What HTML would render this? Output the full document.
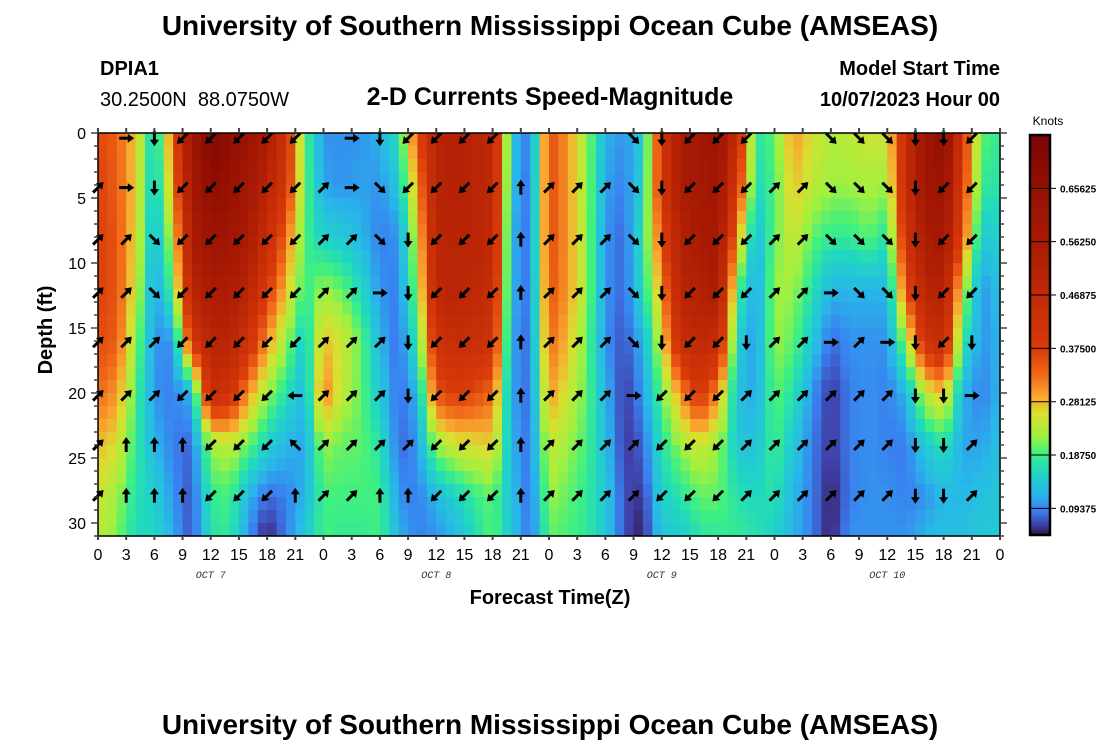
<!DOCTYPE html>
<html><head><meta charset="utf-8">
<style>
body{margin:0;background:#fff;}
svg{display:block;font-family:"Liberation Sans",sans-serif;}
</style></head>
<body>
<svg id="chart" width="1100" height="750" viewBox="0 0 1100 750">
<text x="550" y="35" text-anchor="middle" font-size="28" font-weight="bold">University of Southern Mississippi Ocean Cube (AMSEAS)</text>
<text x="100" y="75" font-size="20" font-weight="bold">DPIA1</text>
<text x="100" y="106" font-size="20" style="white-space:pre">30.2500N  88.0750W</text>
<text x="550" y="105" text-anchor="middle" font-size="25" font-weight="bold">2-D Currents Speed-Magnitude</text>
<text x="1000" y="75" text-anchor="end" font-size="20" font-weight="bold">Model Start Time</text>
<text x="1000" y="106" text-anchor="end" font-size="20" font-weight="bold">10/07/2023 Hour 00</text>
<text transform="translate(52,330) rotate(-90)" text-anchor="middle" font-size="20" font-weight="bold">Depth (ft)</text>
<text x="550" y="604" text-anchor="middle" font-size="20" font-weight="bold">Forecast Time(Z)</text>
<text x="550" y="734" text-anchor="middle" font-size="28" font-weight="bold">University of Southern Mississippi Ocean Cube (AMSEAS)</text>
<text x="1048" y="125" text-anchor="middle" font-size="12">Knots</text>
<g id="heat"></g>
<g id="arrows"></g>
<g id="axes"></g>
<g id="cbar"></g>
</svg>
<script>
// hours sampled every 2h; depth levels
const hours = [];for(let h=0;h<=96;h+=2)hours.push(h);
const depths = [0,4,8,12,16,20,24,28,31];
const speeds = [
[0.36,0.37,0.37,0.37,0.36,0.33,0.28,0.25,0.24],
[0.34,0.34,0.35,0.35,0.34,0.30,0.26,0.22,0.21],
[0.27,0.27,0.26,0.25,0.22,0.19,0.18,0.17,0.16],
[0.14,0.13,0.12,0.10,0.10,0.10,0.12,0.15,0.16],
[0.33,0.30,0.24,0.20,0.10,0.09,0.09,0.10,0.11],
[0.60,0.58,0.55,0.50,0.40,0.12,0.08,0.07,0.07],
[0.72,0.68,0.62,0.55,0.50,0.45,0.22,0.18,0.17],
[0.68,0.65,0.60,0.55,0.50,0.42,0.24,0.19,0.18],
[0.62,0.58,0.55,0.50,0.42,0.30,0.20,0.12,0.10],
[0.55,0.50,0.45,0.38,0.30,0.22,0.15,0.08,0.05],
[0.42,0.40,0.33,0.28,0.22,0.17,0.12,0.09,0.09],
[0.20,0.20,0.19,0.18,0.14,0.12,0.11,0.12,0.14],
[0.10,0.11,0.15,0.22,0.28,0.32,0.22,0.19,0.19],
[0.10,0.10,0.14,0.20,0.25,0.24,0.20,0.19,0.18],
[0.10,0.11,0.12,0.16,0.20,0.20,0.20,0.19,0.18],
[0.12,0.10,0.09,0.10,0.12,0.14,0.17,0.19,0.19],
[0.17,0.14,0.10,0.09,0.08,0.08,0.08,0.10,0.12],
[0.35,0.30,0.25,0.22,0.18,0.12,0.10,0.09,0.09],
[0.50,0.50,0.50,0.48,0.42,0.35,0.22,0.12,0.10],
[0.52,0.52,0.50,0.50,0.45,0.38,0.25,0.15,0.12],
[0.50,0.50,0.50,0.48,0.44,0.36,0.26,0.18,0.16],
[0.48,0.48,0.47,0.45,0.42,0.33,0.27,0.20,0.20],
[0.14,0.13,0.12,0.12,0.11,0.11,0.12,0.13,0.14],
[0.08,0.08,0.08,0.08,0.08,0.08,0.08,0.08,0.08],
[0.36,0.36,0.36,0.35,0.33,0.30,0.25,0.22,0.20],
[0.30,0.30,0.30,0.30,0.28,0.25,0.22,0.20,0.19],
[0.22,0.22,0.22,0.22,0.20,0.20,0.19,0.18,0.18],
[0.12,0.11,0.10,0.10,0.10,0.12,0.13,0.14,0.14],
[0.10,0.09,0.08,0.08,0.07,0.06,0.06,0.07,0.07],
[0.14,0.15,0.17,0.16,0.12,0.10,0.08,0.06,0.05],
[0.40,0.40,0.35,0.30,0.25,0.20,0.17,0.15,0.14],
[0.55,0.55,0.52,0.50,0.45,0.30,0.22,0.17,0.14],
[0.58,0.58,0.56,0.52,0.48,0.40,0.25,0.20,0.17],
[0.62,0.60,0.58,0.55,0.45,0.30,0.22,0.20,0.18],
[0.45,0.40,0.30,0.20,0.15,0.13,0.14,0.17,0.18],
[0.17,0.16,0.12,0.10,0.10,0.11,0.13,0.16,0.17],
[0.20,0.19,0.20,0.22,0.22,0.20,0.19,0.17,0.15],
[0.30,0.28,0.25,0.22,0.20,0.17,0.14,0.12,0.12],
[0.26,0.24,0.20,0.17,0.14,0.10,0.09,0.09,0.09],
[0.23,0.22,0.18,0.12,0.08,0.06,0.06,0.05,0.05],
[0.24,0.22,0.18,0.12,0.10,0.09,0.09,0.09,0.10],
[0.25,0.23,0.20,0.12,0.10,0.10,0.10,0.10,0.10],
[0.25,0.22,0.17,0.12,0.10,0.09,0.09,0.10,0.10],
[0.45,0.45,0.42,0.35,0.22,0.12,0.09,0.09,0.10],
[0.60,0.60,0.55,0.50,0.42,0.24,0.14,0.10,0.12],
[0.68,0.62,0.58,0.52,0.45,0.28,0.17,0.12,0.13],
[0.40,0.38,0.35,0.24,0.18,0.12,0.11,0.12,0.13],
[0.20,0.18,0.14,0.10,0.10,0.09,0.11,0.13,0.14],
[0.18,0.17,0.15,0.13,0.12,0.12,0.13,0.14,0.14]
];
// arrow grid: every 3h, depth rows; direction codes 0=N..7=NW, '-' none
const arrowHours = [];for(let h=0;h<=93;h+=3)arrowHours.push(h);
const arrowDepths = [0.4,4.2,8.2,12.3,16.1,20.2,24.0,27.9];
const arrowDirs = ["-1111111","22111100","44331100","55555500","55555555","55555555","55555555","55555670",
"-1111111","22111111","43321110","55444410","55555555","55555555","55555555","-0000000",
"-1111111","-1111111","-1111111","33333211","44444555","55555555","55555555","55554111",
"-1111111","-1111111","33322111","33331111","33332111","44444444","45555444","55554211"];
const cbTicks = [0.09375,0.1875,0.28125,0.375,0.46875,0.5625,0.65625];
const cbLabels = ["0.09375","0.18750","0.28125","0.37500","0.46875","0.56250","0.65625"];

const X0=98,X1=1000,Y0=133,Y1=536;
const xs=h=>X0+(X1-X0)*h/96, ys=d=>Y0+(Y1-Y0)*d/31;
const stops=[[0.047,[48,18,59]],[0.065,[64,64,168]],[0.09,[58,127,240]],[0.12,[40,184,232]],[0.16,[32,216,192]],[0.19,[64,240,128]],[0.22,[160,240,64]],[0.26,[216,224,48]],[0.29,[248,168,48]],[0.33,[240,104,24]],[0.375,[216,58,10]],[0.47,[192,42,6]],[0.56,[168,26,4]],[0.66,[148,16,2]],[0.75,[122,4,3]]];
function col(v){if(v<=stops[0][0])return 'rgb('+stops[0][1]+')';
for(let i=1;i<stops.length;i++){if(v<=stops[i][0]){const a=stops[i-1],b=stops[i],t=(v-a[0])/(b[0]-a[0]);
return 'rgb('+a[1].map((c,k)=>Math.round(c+(b[1][k]-c)*t)).join(',')+')';}}
return 'rgb('+stops[stops.length-1][1]+')';}
function sample(h,d){let i=Math.min(hours.length-2,Math.floor(h/2));const th=(h-hours[i])/(hours[i+1]-hours[i]);
let j=0;while(j<depths.length-2&&d>depths[j+1])j++;const td=Math.max(0,Math.min(1,(d-depths[j])/(depths[j+1]-depths[j])));
const a=speeds[i][j]*(1-td)+speeds[i][j+1]*td,b=speeds[i+1][j]*(1-td)+speeds[i+1][j+1]*td;return a*(1-th)+b*th;}
const NS='http://www.w3.org/2000/svg';
function mk(t,p,at){const e=document.createElementNS(NS,t);for(const k in at)e.setAttribute(k,at[k]);p.appendChild(e);return e;}
const heat=document.getElementById('heat');
for(let h=0;h<96;h+=1){for(let d=0;d<31;d+=1){
const r=mk('rect',heat,{x:xs(h).toFixed(2),y:ys(d).toFixed(2),width:(xs(h+1)-xs(h)+0.6).toFixed(2),height:(ys(d+1)-ys(d)+0.6).toFixed(2),fill:col(sample(h+0.5,d+0.5))});


}}
const ar=document.getElementById('arrows');
arrowHours.forEach((h,i)=>{arrowDepths.forEach((d,j)=>{const c=arrowDirs[i][j];if(c==='-')return;
const ang=(+c)*45;const g=mk('g',ar,{transform:`translate(${xs(h).toFixed(1)},${ys(d).toFixed(1)}) rotate(${ang})`});


mk('line',g,{x1:0,y1:7,x2:0,y2:-3,stroke:'#000','stroke-width':3});
mk('path',g,{d:'M-4.5,-1.5 L0,-8 L4.5,-1.5 Z',fill:'#000'});});});
const ax=document.getElementById('axes');
mk('rect',ax,{x:X0,y:Y0,width:X1-X0,height:Y1-Y0,fill:'none',stroke:'#000','stroke-width':1.5});
for(let h=0;h<=96;h+=3){const x=xs(h);
mk('line',ax,{x1:x,y1:Y1,x2:x,y2:Y1+4,stroke:'#444','stroke-width':2});
mk('line',ax,{x1:x,y1:Y0,x2:x,y2:Y0-5,stroke:'#444','stroke-width':2});
const t=mk('text',ax,{x:x,y:560,'text-anchor':'middle','font-size':16});t.textContent=String(h%24);

}
["OCT  7","OCT  8","OCT  9","OCT  10"].forEach((s,i)=>{const t=mk('text',ax,{x:xs(12+24*i),y:578,'text-anchor':'middle','font-size':10,'font-style':'italic','font-family':'Liberation Mono, monospace',fill:'#333'});t.textContent=s;

});
for(let d=0;d<=31;d++){const y=ys(d),L=d%5===0?7:4;
mk('line',ax,{x1:X0,y1:y,x2:X0-L,y2:y,stroke:'#444','stroke-width':1.5});
mk('line',ax,{x1:X1,y1:y,x2:X1+L,y2:y,stroke:'#444','stroke-width':1.5});
if(d%5===0){const t=mk('text',ax,{x:86,y:y+6,'text-anchor':'end','font-size':16});t.textContent=String(d);

}}
const cb=document.getElementById('cbar');const CB0=135,CB1=535,vmin=0.047,vmax=0.75;
const cy=v=>CB1-(CB1-CB0)*(v-vmin)/(vmax-vmin);
for(let y=CB0;y<CB1;y+=2){const v=vmin+(vmax-vmin)*(CB1-y-1)/(CB1-CB0);mk('rect',cb,{x:1030,y:y,width:20,height:2.5,fill:col(v)});}
mk('rect',cb,{x:1030,y:CB0,width:20,height:CB1-CB0,fill:'none',stroke:'#000','stroke-width':2.5});
cbTicks.forEach((v,i)=>{const y=cy(v);mk('line',cb,{x1:1030,y1:y,x2:1056,y2:y,stroke:'#000','stroke-width':1});
const t=mk('text',cb,{x:1060,y:y+4,'font-size':10,'font-weight':'bold'});t.textContent=cbLabels[i];

});
</script>
</body></html>
